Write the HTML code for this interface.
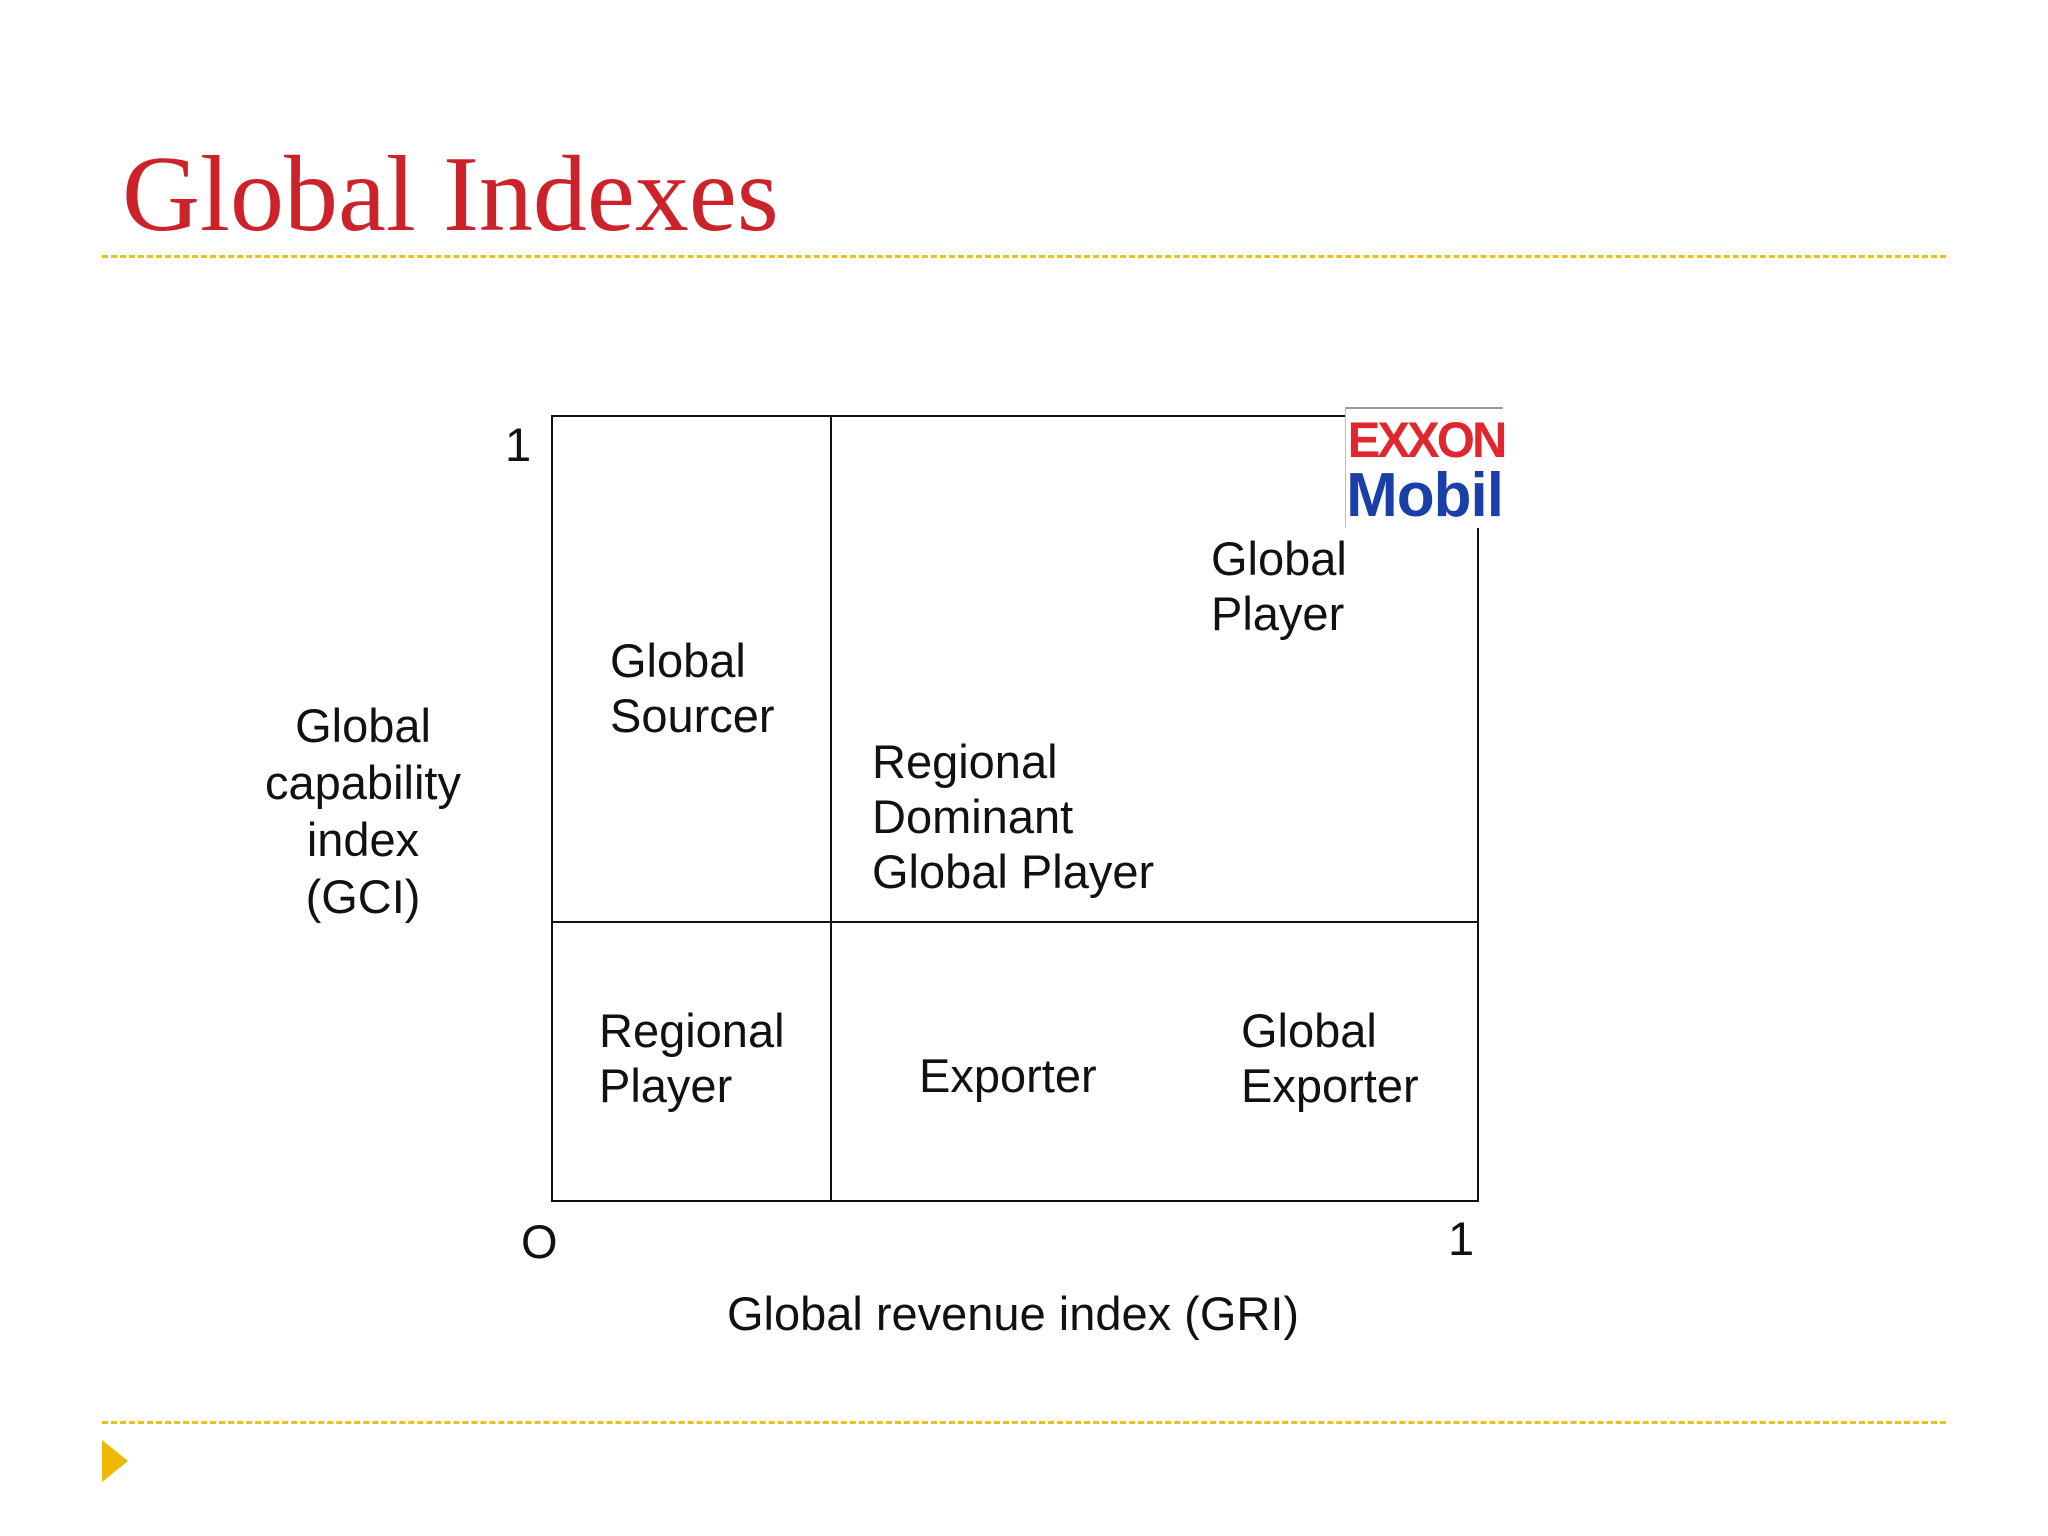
<!DOCTYPE html>
<html><head><meta charset="utf-8"><style>
body{margin:0;width:2048px;height:1536px;background:#fff;position:relative;overflow:hidden;font-family:"Liberation Sans",sans-serif;}
.a{position:absolute;}
.t{position:absolute;font-size:47px;line-height:55px;color:#111;white-space:nowrap;}
.dash{position:absolute;left:102px;width:1844px;height:0;border-top:3px dashed #e6c21a;}
.ln{position:absolute;background:#111;}
</style></head><body>
<div class="a" style="left:122px;top:135px;font-family:'Liberation Serif',serif;font-size:108px;color:#cc2229;line-height:120px;white-space:nowrap">Global Indexes</div>
<div class="dash" style="top:255px"></div>
<div class="dash" style="top:1421px"></div>
<svg class="a" style="left:102px;top:1440px" width="26" height="42"><polygon points="0,0 26,21 0,42" fill="#f0b800"/></svg>

<div class="a" style="left:551px;top:415px;width:924px;height:783px;border:2px solid #111;"></div>
<div class="ln" style="left:830px;top:415px;width:2px;height:785px"></div>
<div class="ln" style="left:551px;top:921px;width:926px;height:2px"></div>

<div class="t" style="left:505px;top:417px">1</div>
<div class="t" style="left:521px;top:1214px">O</div>
<div class="t" style="left:1448px;top:1211px">1</div>

<div class="t" style="left:213px;top:697px;width:300px;text-align:center;line-height:57px">Global<br>capability<br>index<br>(GCI)</div>
<div class="t" style="left:713px;top:1286px;width:600px;text-align:center">Global revenue index (GRI)</div>

<div class="t" style="left:610px;top:633px">Global<br>Sourcer</div>
<div class="t" style="left:872px;top:734px">Regional<br>Dominant<br>Global Player</div>
<div class="t" style="left:1211px;top:531px">Global<br>Player</div>
<div class="t" style="left:599px;top:1003px">Regional<br>Player</div>
<div class="t" style="left:919px;top:1048px">Exporter</div>
<div class="t" style="left:1241px;top:1003px">Global<br>Exporter</div>

<div class="a" style="left:1345px;top:407px;width:157px;height:119px;background:#fff;border-top:2px solid #999;border-left:1px solid #bbb;">
<div style="position:absolute;left:0;top:2px;width:157px;text-align:center;font-weight:bold;font-size:50px;line-height:58px;color:#e0262f;letter-spacing:-3px;transform:scaleX(0.98)">EXXON</div>
<div style="position:absolute;left:0;top:54px;width:157px;text-align:center;font-weight:bold;font-size:62px;line-height:66px;color:#1a3fa8;letter-spacing:-1px">Mobil</div>
</div>
</body></html>
